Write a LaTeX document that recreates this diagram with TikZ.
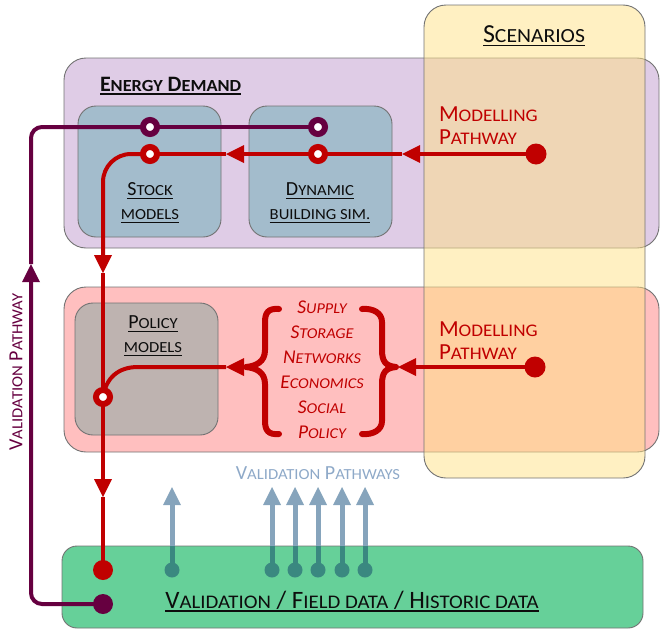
\documentclass[tikz,border=0pt]{standalone}
\usepackage{fontspec}
\setmainfont{Carlito}
\usetikzlibrary{arrows.meta}
\definecolor{mred}{RGB}{192,0,0}
\definecolor{mpur}{RGB}{102,0,64}
\definecolor{edfill}{RGB}{223,204,230}
\definecolor{pkfill}{RGB}{255,191,191}
\definecolor{scfill}{RGB}{255,225,133}
\definecolor{grfill}{RGB}{102,208,153}
\definecolor{bxfill}{RGB}{163,188,204}
\definecolor{pofill}{RGB}{190,179,176}
\definecolor{bord}{RGB}{115,115,115}
\definecolor{vlight}{RGB}{134,164,188}
\definecolor{vdark}{RGB}{58,136,128}
\definecolor{vtext}{RGB}{142,169,200}
\definecolor{ink}{RGB}{13,13,13}
\newcommand\ulx[1]{\setbox0\hbox{#1}\rlap{\rule[-3.5pt]{\wd0}{1.5pt}}\box0}
\newcommand\fs[2]{\fontsize{#1}{#2}\selectfont}
\makeatletter
\newcommand\s[1]{\scalebox{1.08}[1]{\fontsize{\fpeval{0.77*\f@size}}{0}\selectfont #1}}
\makeatother
\begin{document}
\begin{tikzpicture}[x=1pt,y=-1pt,
  box/.style={draw=bord,line width=0.9pt,inner sep=0pt,outer sep=0pt},
  redl/.style={draw=mred,line width=4pt},
  purl/.style={draw=mpur,line width=4pt},
  bluel/.style={draw=vlight,line width=5pt},
  tri/.style={-{Triangle[length=18pt,width=18pt,line width=0pt]}},
  ring/.style={circle,draw=#1,line width=6pt,fill=white,minimum size=14pt,inner sep=0pt},
  dot/.style={circle,fill=#1,minimum size=20pt,inner sep=0pt},
  txt/.style={inner sep=0pt,outer sep=0pt,align=center},
  brc/.style={draw=mred,line width=6pt,line cap=round,line join=round},
]
\useasboundingbox (0,0) rectangle (660,629);
% big boxes
\node[box,fill=edfill,rounded corners=22pt,minimum width=595pt,minimum height=190pt] (ed) at (361.5,153) {};
\node[box,fill=pkfill,rounded corners=22pt,minimum width=595pt,minimum height=165pt] (pk) at (361.5,369.5) {};
\node[box,fill=grfill,rounded corners=15pt,minimum width=581pt,minimum height=82pt] (gr) at (352.5,587) {};
\node[box,fill=scfill,fill opacity=0.5,rounded corners=22pt,minimum width=221pt,minimum height=473pt] (sc) at (534.5,241.5) {};
% inner boxes
\node[box,fill=bxfill,rounded corners=18pt,minimum width=143pt,minimum height=131pt] (st) at (149.5,171.5) {};
\node[box,fill=bxfill,rounded corners=18pt,minimum width=143pt,minimum height=131pt] (dy) at (320.5,171.5) {};
\node[box,fill=pofill,rounded corners=18pt,minimum width=143pt,minimum height=132pt] (po) at (146.5,369) {};
% texts
\node[txt,anchor=north west,text=ink,font=\fs{22}{26}\bfseries] (edt) at (100,77) {\ulx{E\s{NERGY} D\s{EMAND}}};
\node[txt,anchor=north,text=ink,font=\fs{26}{30}] (sct) at (534,26) {\ulx{S\s{CENARIOS}}};
\node[txt,anchor=north west,align=left,text=mred,font=\fs{23}{23}] (mpt1) at (439,107) {M\s{ODELLING}\\P\s{ATHWAY}};
\node[txt,anchor=north west,align=left,text=mred,font=\fs{23}{23}] (mpt2) at (439,322) {M\s{ODELLING}\\P\s{ATHWAY}};
\node[txt,anchor=north,text=ink,font=\fs{20}{24}] (stt) at (150,183) {\ulx{S\s{TOCK}}\\\ulx{\s{MODELS}}};
\node[txt,anchor=north,text=ink,font=\fs{20}{24}] (dyt) at (320,183) {\ulx{D\s{YNAMIC}}\\\ulx{\s{BUILDING SIM.}}};
\node[txt,anchor=north,text=ink,font=\fs{20}{24}] (pot) at (153,316) {\ulx{P\s{OLICY}}\\\ulx{\s{MODELS}}};
\node[txt,anchor=north,text=mred,font=\fs{19.5}{25}\itshape] (brt) at (322,301) {S\s{UPPLY}\\S\s{TORAGE}\\N\s{ETWORKS}\\E\s{CONOMICS}\\S\s{OCIAL}\\P\s{OLICY}};
\node[txt,anchor=north,text=vtext,font=\fs{20}{24}] (vpt) at (318,467) {V\s{ALIDATION} P\s{ATHWAYS}};
\node[txt,anchor=north,text=ink,font=\fs{25}{30}] (grt) at (352,591) {\ulx{V\s{ALIDATION} / F\s{IELD DATA} / H\s{ISTORIC DATA}}};
\node[txt,rotate=90,text=mpur,font=\fs{20}{24}] (vlt) at (16,372) {V\s{ALIDATION} P\s{ATHWAY}};
% braces
\draw[brc] (279,309) .. controls (268,308) and (265,313) .. (265,322) -- (265,350) .. controls (265,362) and (256,366) .. (246,367) .. controls (256,368) and (265,372) .. (265,384) -- (265,421) .. controls (265,430) and (268,435) .. (279,434);
\draw[brc] (362,309) .. controls (373,308) and (382,313) .. (382,322) -- (382,350) .. controls (382,362) and (386,366) .. (396,367) .. controls (386,368) and (382,372) .. (382,384) -- (382,421) .. controls (382,430) and (373,435) .. (362,434);
% coordinates
\coordinate (mp1) at (536,154);
\coordinate (mp2) at (535,367);
\coordinate (r1c) at (318,154);
\coordinate (r2c) at (150,154);
\coordinate (r3c) at (103,397);
\coordinate (r4c) at (318,127);
\coordinate (r5c) at (150,127);
\coordinate (rdc) at (103,570);
\coordinate (vdc) at (103,604);
\coordinate (t1) at (402,154);
\coordinate (t2) at (226,154);
\coordinate (t3) at (103,273);
\coordinate (t4) at (103,497);
\coordinate (t5) at (398,367);
\coordinate (b1) at (245,367);
\coordinate (t6) at (226,367);
\coordinate (t7) at (31,264);
% purple validation pathway
\draw[purl] (r4c) -- (r5c);
\draw[purl,tri,rounded corners=11pt] (vdc) -| (t7);
\draw[purl,rounded corners=11pt] (t7) |- (r5c);
% red modelling pathway (top)
\draw[redl,tri] (mp1) -- (t1);
\draw[redl] (t1) -- (r1c);
\draw[redl,tri] (r1c) -- (t2);
\draw[redl] (t2) -- (r2c);
\draw[redl,tri,rounded corners=28pt] (r2c) -| (t3);
\draw[redl] (t3) -- (r3c);
\draw[redl,tri] (r3c) -- (t4);
\draw[redl] (t4) -- (rdc);
% red modelling pathway (policy)
\draw[redl,tri] (mp2) -- (t5);
\draw[redl,tri] (b1) -- (t6);
\draw[redl] (t6) -- (138,367) .. controls (118,367) and (106,378) .. (r3c);
% blue validation pathways
\foreach \i/\x in {1/172,2/272,3/295,4/318,5/342,6/365}{
  \coordinate (vc\i) at (\x,570);
  \coordinate (vt\i) at (\x,487);
  \coordinate (vg\i) at (\x,546);
  \draw[bluel,tri] (vc\i) -- (vt\i);
  \draw[draw=vdark,line width=5pt] (vc\i) -- (vg\i);
  \node[dot=vdark,minimum size=15pt] (v\i) at (vc\i) {};
}
% dots and rings
\node[dot=mred,minimum size=21pt] (m1) at (mp1) {};
\node[dot=mred,minimum size=21pt] (m2) at (mp2) {};
\node[dot=mred] (rd) at (rdc) {};
\node[dot=mpur] (vd) at (vdc) {};
\node[ring=mred] (r1) at (r1c) {};
\node[ring=mred] (r2) at (r2c) {};
\node[ring=mred] (r3) at (r3c) {};
\node[ring=mpur] (r4) at (r4c) {};
\node[ring=mpur] (r5) at (r5c) {};
\end{tikzpicture}
\end{document}
